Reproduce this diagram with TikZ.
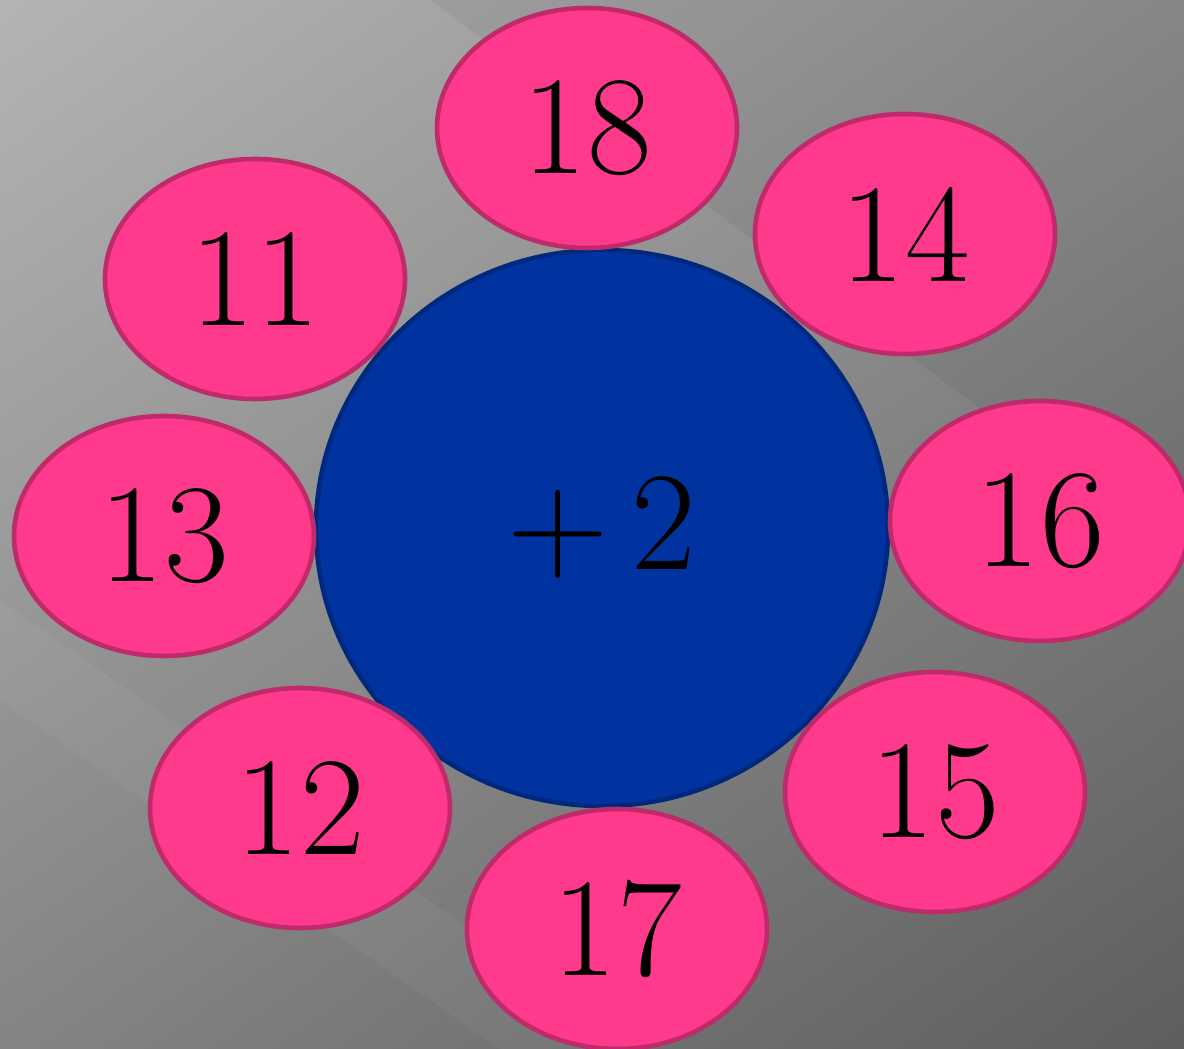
\documentclass[tikz,border=0pt]{standalone}
\definecolor{bgl}{HTML}{B8B8B8}
\definecolor{bgd}{HTML}{575757}
\definecolor{petal}{HTML}{FF3A8C}
\definecolor{petalrim}{HTML}{BE2A6A}
\definecolor{core}{HTML}{0033A0}
\definecolor{corerim}{HTML}{00297E}
\usetikzlibrary{shapes.geometric}

\begin{document}
\begin{tikzpicture}[
  pt/.style={ellipse, draw=petalrim, fill=petal, line width=1.3pt,
             minimum width=3.0cm, minimum height=2.4cm, inner sep=0pt,
             font=\fontsize{40}{48}\selectfont},
  hub/.style={ellipse, draw=corerim, fill=core, line width=1.3pt,
              minimum width=5.72cm, minimum height=5.56cm, inner sep=0pt,
              font=\fontsize{40}{48}\selectfont},
]
% Background
\useasboundingbox (0,0) rectangle (11.84,-10.49);
\begin{scope}
\clip (0,0) rectangle (11.84,-10.49);
\shade[shading=axis, top color=bgl, bottom color=bgd, shading angle=35]
  (-3,3) rectangle (15,-14);
\fill[black, opacity=0.05] (4.3,0) -- (11.84,0) -- (11.84,-5.6) -- cycle;
\fill[white, opacity=0.04] (0,-6.0) -- (0,-7.0) -- (5.0,-10.49) -- (6.4,-10.49) -- cycle;

% Centre
\node[hub] (plus) at (6.02,-5.28) {+\,2};

% Petals
\node[pt] (n18) at (5.87,-1.28) {18};
\node[pt] (n14) at (9.05,-2.34) {14};
\node[pt] (n11) at (2.55,-2.79) {11};
\node[pt] (n13) at (1.64,-5.36) {13};
\node[pt] (n16) at (10.40,-5.21) {16};
\node[pt] (n12) at (3.00,-8.08) {12};
\node[pt] (n15) at (9.35,-7.92) {15};
\node[pt] (n17) at (6.17,-9.29) {17};
\end{scope}
\end{tikzpicture}
\end{document}
